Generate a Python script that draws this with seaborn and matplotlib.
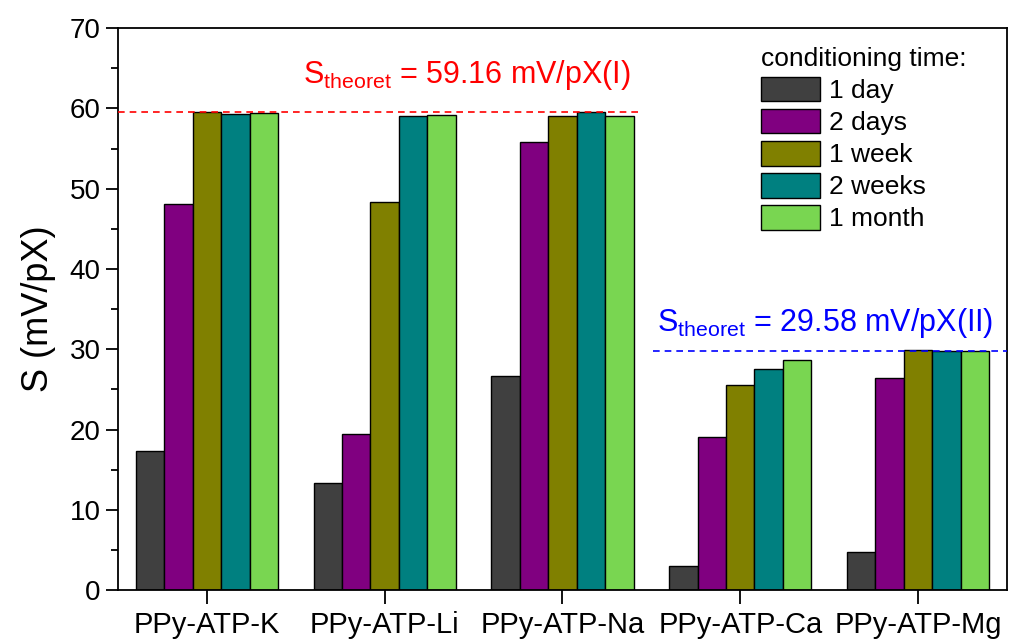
import matplotlib
matplotlib.use('Agg')
import matplotlib.pyplot as plt
import pandas as pd
import seaborn as sns
from matplotlib.ticker import MultipleLocator

sensors = ['PPy-ATP-K', 'PPy-ATP-Li', 'PPy-ATP-Na', 'PPy-ATP-Ca', 'PPy-ATP-Mg']
times = ['1 day', '2 days', '1 week', '2 weeks', '1 month']

one_day = [17.3, 13.3, 26.7, 3.0, 4.8]
two_days = [48.1, 19.5, 55.8, 19.1, 26.4]
one_week = [59.6, 48.3, 59.1, 25.6, 29.9]
two_weeks = [59.3, 59.0, 59.5, 27.5, 29.8]
one_month = [59.4, 59.2, 59.1, 28.7, 29.8]

colors = ['#404040', '#800080', '#808000', '#008080', '#79D651']

theor_mono = 59.5   # drawn level of the 59.16 line
theor_di = 29.8     # drawn level of the 29.58 line

sns.set_style('ticks')
plt.rcParams['font.family'] = ['Liberation Sans', 'DejaVu Sans']
plt.rcParams['mathtext.fontset'] = 'custom'
plt.rcParams['mathtext.rm'] = 'Liberation Sans'
plt.rcParams['mathtext.it'] = 'Liberation Sans:italic'
plt.rcParams['text.color'] = 'black'
plt.rcParams['axes.labelcolor'] = 'black'
plt.rcParams['xtick.color'] = 'black'
plt.rcParams['ytick.color'] = 'black'
plt.rcParams['axes.edgecolor'] = 'black'

rows = []
for t, vals in zip(times, [one_day, two_days, one_week, two_weeks, one_month]):
    for s, v in zip(sensors, vals):
        rows.append({'sensor': s, 'time': t, 'S': v})
df = pd.DataFrame(rows)

fig = plt.figure(figsize=(10.12, 6.4), dpi=100)
ax = fig.add_axes([0.1166, 0.078, 0.8784, 0.878])

sns.barplot(data=df, x='sensor', y='S', hue='time', hue_order=times, order=sensors,
            palette=colors, edgecolor='black', linewidth=1.0, width=0.8,
            saturation=1, ax=ax)

ax.set_xlim(-0.5, 4.5)
ax.set_ylim(0, 70)
ax.yaxis.set_major_locator(MultipleLocator(10))
ax.yaxis.set_minor_locator(MultipleLocator(5))
ax.tick_params(axis='y', which='major', length=9, width=1.3, labelsize=20, direction='out')
ax.tick_params(axis='y', which='minor', length=5, width=1.3, direction='out')
ax.tick_params(axis='x', length=10, width=1.3, labelsize=21, direction='out', pad=5)
for sp in ax.spines.values():
    sp.set_linewidth(1.3)
    sp.set_visible(True)
ax.set_xlabel('')
ax.set_ylabel('S (mV/pX)', fontsize=26, labelpad=10)

ax.plot([-0.5, 2.44], [theor_mono, theor_mono], color='red', ls=(0, (4, 3)), lw=1.2, zorder=5)
ax.plot([2.51, 4.5], [theor_di, theor_di], color='blue', ls=(0, (4, 3)), lw=1.2, zorder=5)
ax.text(0.54, 64.2, r'S$_{\mathrm{theoret}}$ = 59.16 mV/pX(I)', color='red',
        fontsize=22, ha='left', va='center')
ax.text(2.53, 33.3, r'S$_{\mathrm{theoret}}$ = 29.58 mV/pX(II)', color='blue',
        fontsize=22, ha='left', va='center')

leg = ax.legend(title='conditioning time:', loc='upper left', bbox_to_anchor=(0.712, 0.985),
                frameon=False, fontsize=19, title_fontsize=19, handlelength=2.2,
                handleheight=1.05, labelspacing=0.22, handletextpad=0.35,
                alignment='left', borderaxespad=0)

fig.savefig('out.png', dpi=100)
